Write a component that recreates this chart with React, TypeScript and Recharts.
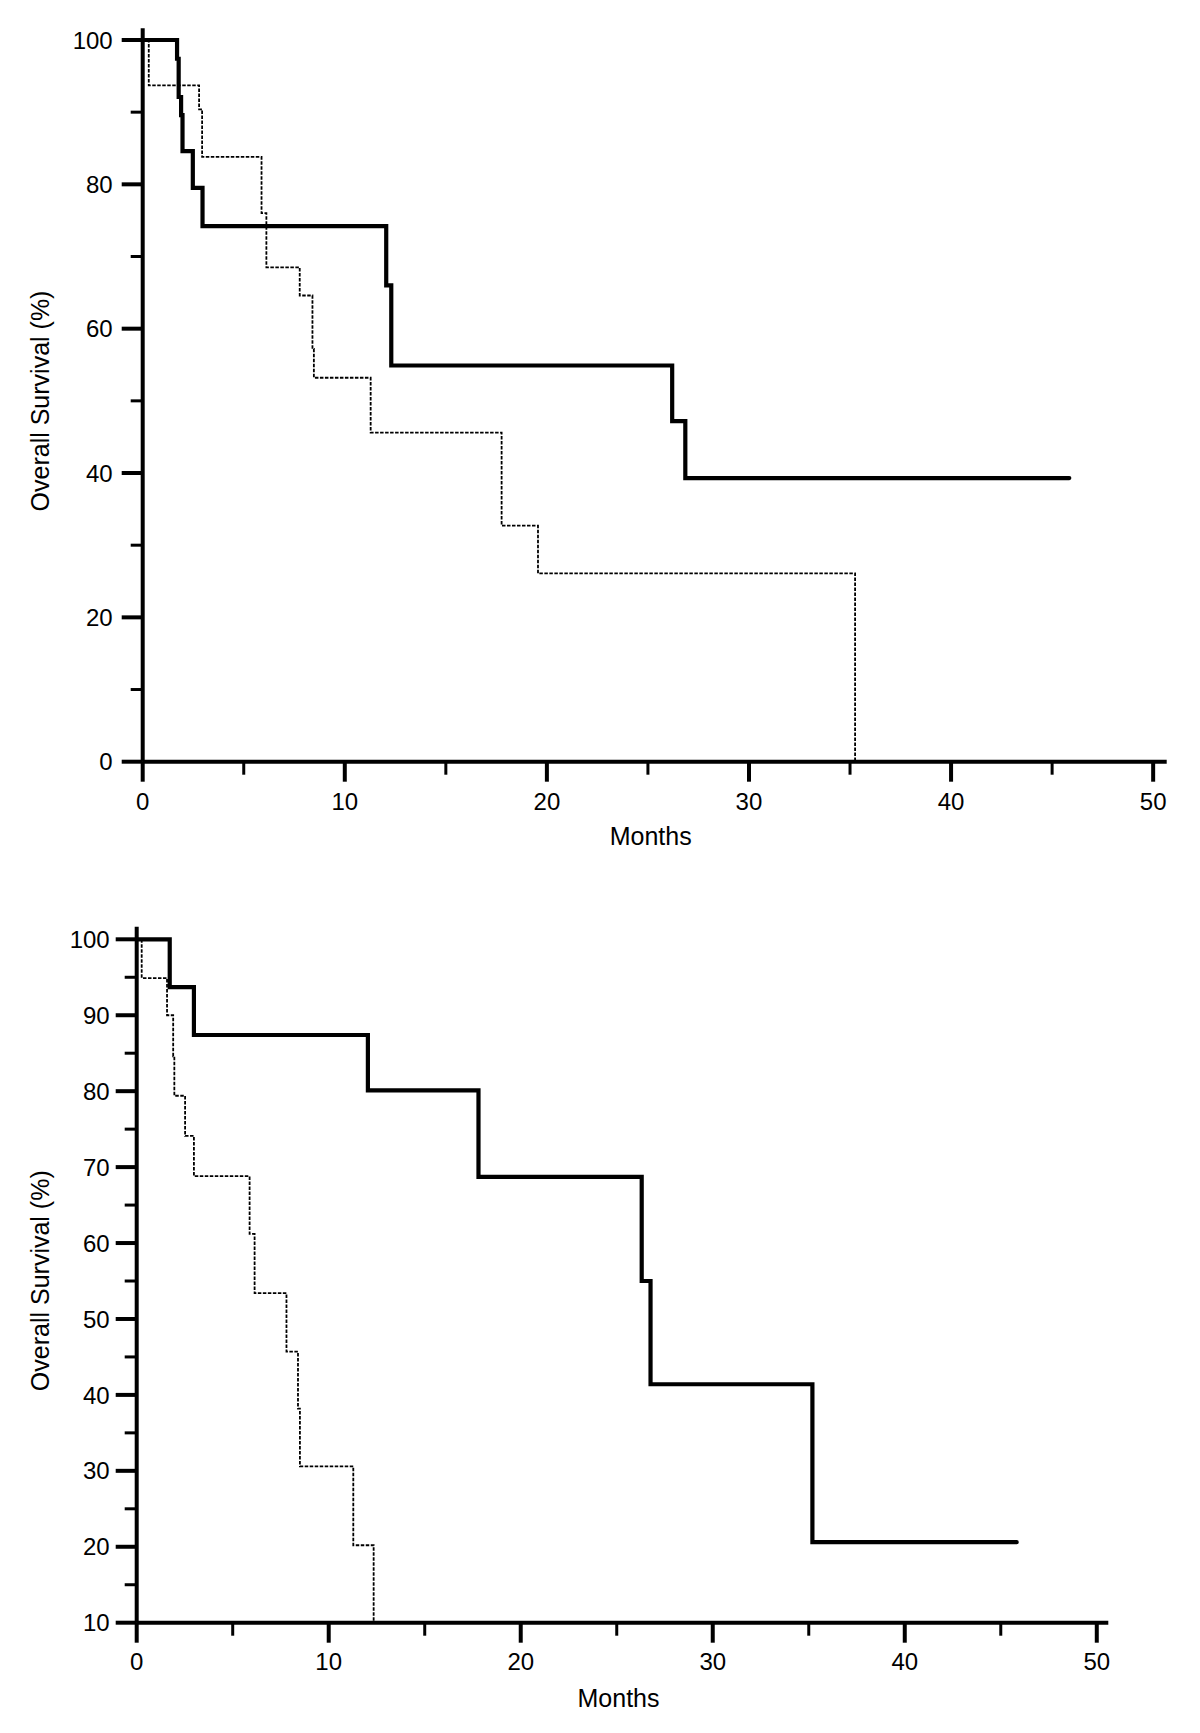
import React from 'react';
import { LineChart, Line, XAxis, YAxis, Label } from 'recharts';

// ---------- data ----------
const monthTicks = [0, 5, 10, 15, 20, 25, 30, 35, 40, 45, 50];
const topSurvivalTicks = [0, 10, 20, 30, 40, 50, 60, 70, 80, 90, 100];
const bottomSurvivalTicks = [10, 15, 20, 25, 30, 35, 40, 45, 50, 55, 60, 65, 70, 75, 80, 85, 90, 95, 100];

// Top panel, solid curve
const topSolidMonths = [0, 1.7, 1.78, 1.9, 1.97, 2.48, 2.96, 12.05, 12.3, 26.2, 26.85, 45.85];
const topSolidSurvival = [100, 97.4, 92.1, 89.6, 84.6, 79.5, 74.2, 66.0, 54.9, 47.2, 39.3, 39.3];
// Top panel, dashed curve
const topDashedMonths = [0, 0.3, 2.79, 2.94, 5.88, 6.12, 7.77, 8.4, 8.47, 11.28, 17.76, 19.56, 35.25];
const topDashedSurvival = [100, 93.7, 90.4, 83.8, 76.0, 68.5, 64.6, 57.2, 53.2, 45.6, 32.7, 26.1, 0];

// Bottom panel, solid curve
const bottomSolidMonths = [0, 1.72, 2.98, 12.04, 17.8, 26.3, 26.76, 35.19, 45.83];
const bottomSolidSurvival = [100, 93.7, 87.4, 80.1, 68.7, 55.0, 41.4, 20.6, 20.6];
// Bottom panel, dashed curve
const bottomDashedMonths = [0, 0.26, 1.58, 1.9, 1.96, 2.52, 2.98, 5.88, 6.14, 7.8, 8.4, 8.5, 11.28, 12.34];
const bottomDashedSurvival = [100, 94.9, 90.0, 84.6, 79.4, 74.1, 68.8, 61.2, 53.4, 45.7, 38.2, 30.6, 20.2, 0];

const toPoints = (t: number[], s: number[]) => t.map((m, i) => ({ t: m, s: s[i] }));

const FONT = '"Liberation Sans", Arial, Helvetica, sans-serif';

const makeXTick = (labelGap: number) => (props: any) => {
  const { x, y, payload } = props;
  const major = payload.value % 10 === 0;
  return (
    <g>
      <line x1={x} y1={y} x2={x} y2={y + (major ? 20 : 13)} stroke="#000" strokeWidth={major ? 4 : 3} />
      {major && (
        <text x={x} y={y + labelGap} dy="0.36em" textAnchor="middle" fontSize={24} fontFamily={FONT} fill="#000">
          {payload.value}
        </text>
      )}
    </g>
  );
};

const makeYTick = (majorStep: number, labelGap: number) => (props: any) => {
  const { x, y, payload } = props;
  const major = payload.value % majorStep === 0;
  return (
    <g>
      <line x1={x - (major ? 21 : 12)} y1={y} x2={x} y2={y} stroke="#000" strokeWidth={major ? 4 : 3} />
      {major && (
        <text x={x - labelGap} y={y} dy="0.36em" textAnchor="end" fontSize={24} fontFamily={FONT} fill="#000">
          {payload.value}
        </text>
      )}
    </g>
  );
};

const makeXTitle = (below: number) => (props: any) => {
  const vb = props.viewBox || { x: 0, y: 0, width: 0, height: 0 };
  const cx = vb.x + vb.width / 2 - 4;
  const cy = vb.y + below;
  return (
    <text x={cx} y={cy} dy="0.36em" textAnchor="middle" fontSize={25} fontFamily={FONT} fill="#000">
      Months
    </text>
  );
};

const makeYTitle = (shift: number) => (props: any) => {
  const vb = props.viewBox || { x: 0, y: 0, width: 0, height: 0 };
  const cx = vb.x + 40;
  const cy = vb.y + vb.height / 2 + shift;
  return (
    <text
      x={cx}
      y={cy}
      dy="0.36em"
      transform={`rotate(-90 ${cx} ${cy})`}
      textAnchor="middle"
      fontSize={25}
      fontFamily={FONT}
      fill="#000"
    >
      Overall Survival (%)
    </text>
  );
};

const axisLine = { stroke: '#000', strokeWidth: 4 };

function Panel(props: {
  width: number;
  height: number;
  margin: { top: number; right: number; bottom: number; left: number };
  yWidth: number;
  xHeight: number;
  xDomain: [number, number];
  yDomain: [number, number];
  yTicks: number[];
  yMajor: number;
  yLabelGap: number;
  xLabelGap: number;
  titleBelow: number;
  solid: { t: number; s: number }[];
  dashed: { t: number; s: number }[];
}) {
  return (
    <LineChart width={props.width} height={props.height} margin={props.margin}>
      <XAxis
        type="number"
        dataKey="t"
        domain={props.xDomain}
        allowDataOverflow
        ticks={monthTicks}
        interval={0}
        tickSize={0}
        tickMargin={0}
        tickLine={false}
        axisLine={axisLine}
        tick={makeXTick(props.xLabelGap)}
        height={props.xHeight}
      >
        <Label content={makeXTitle(props.titleBelow)} />
      </XAxis>
      <YAxis
        type="number"
        dataKey="s"
        domain={props.yDomain}
        allowDataOverflow
        ticks={props.yTicks}
        interval={0}
        tickSize={0}
        tickMargin={0}
        tickLine={false}
        axisLine={axisLine}
        tick={makeYTick(props.yMajor, props.yLabelGap)}
        width={props.yWidth}
      >
        <Label content={makeYTitle(6)} />
      </YAxis>
      <Line
        data={props.dashed}
        dataKey="s"
        type="stepAfter"
        stroke="#000"
        strokeWidth={1.8}
        strokeDasharray="3.5 1.5"
        dot={false}
        activeDot={false}
        isAnimationActive={false}
      />
      <Line
        data={props.solid}
        dataKey="s"
        type="stepAfter"
        stroke="#000"
        strokeWidth={4.2}
        strokeLinecap="round"
        strokeLinejoin="miter"
        dot={false}
        activeDot={false}
        isAnimationActive={false}
      />
    </LineChart>
  );
}

export default function App() {
  return (
    <div style={{ position: 'absolute', left: 0, top: 0, width: 1200, height: 1733, background: '#fff' }}>
      <div style={{ position: 'absolute', left: 0, top: 0 }}>
        <Panel
          width={1200}
          height={880}
          margin={{ top: 28.3, right: 33.3, bottom: 0, left: 0 }}
          yWidth={142.7}
          xHeight={118.3}
          xDomain={[0, 50.67]}
          yDomain={[0, 101.62]}
          yTicks={topSurvivalTicks}
          yMajor={20}
          yLabelGap={30}
          xLabelGap={40}
          titleBelow={74}
          solid={toPoints(topSolidMonths, topSolidSurvival)}
          dashed={toPoints(topDashedMonths, topDashedSurvival)}
        />
      </div>
      <div style={{ position: 'absolute', left: 0, top: 880 }}>
        <Panel
          width={1200}
          height={853}
          margin={{ top: 46.7, right: 91.7, bottom: 0, left: 0 }}
          yWidth={136.7}
          xHeight={110.3}
          xDomain={[0, 50.6]}
          yDomain={[10, 101.66]}
          yTicks={bottomSurvivalTicks}
          yMajor={10}
          yLabelGap={27}
          xLabelGap={39}
          titleBelow={75}
          solid={toPoints(bottomSolidMonths, bottomSolidSurvival)}
          dashed={toPoints(bottomDashedMonths, bottomDashedSurvival)}
        />
      </div>
    </div>
  );
}
